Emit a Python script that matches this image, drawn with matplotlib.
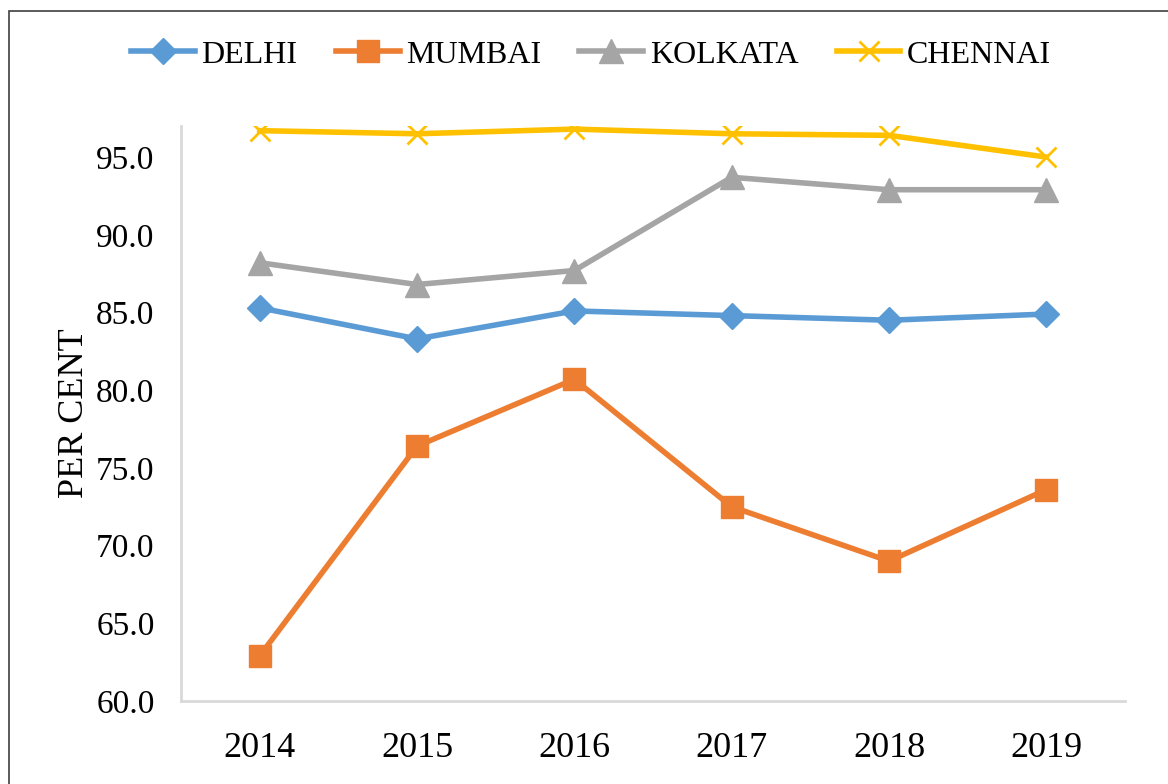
import matplotlib
matplotlib.use("Agg")
import matplotlib.pyplot as plt
from matplotlib.patches import Rectangle

years = ["2014", "2015", "2016", "2017", "2018", "2019"]
delhi = [85.3, 83.3, 85.1, 84.8, 84.5, 84.9]
mumbai = [62.9, 76.4, 80.7, 72.5, 69.0, 73.6]
kolkata = [88.2, 86.8, 87.7, 93.7, 92.9, 92.9]
chennai = [96.7, 96.5, 96.8, 96.5, 96.4, 95.0]
yticks = [60, 65, 70, 75, 80, 85, 90, 95]

plt.rcParams['font.family'] = ['Liberation Serif', 'DejaVu Serif']

fig = plt.figure(figsize=(11.68, 7.84), dpi=100)
ax = fig.add_axes([181/1168, 83/784, 944/1168, 575/784])

x = list(range(len(years)))
lw = 4.0
ax.plot(x, delhi, color='#5B9BD5', lw=lw, marker='D', ms=13, label='DELHI')
ax.plot(x, mumbai, color='#ED7D31', lw=lw, marker='s', ms=16, label='MUMBAI')
ax.plot(x, kolkata, color='#A5A5A5', lw=lw, marker='^', ms=17, label='KOLKATA')
ax.plot(x, chennai, color='#FFC000', lw=lw, marker='x', ms=15, mew=2, label='CHENNAI')

ax.set_xlim(-0.5, 5.5)
ax.set_ylim(60, 97)
ax.set_xticks(x)
ax.set_xticklabels(years, fontsize=26)
ax.set_yticks(yticks)
ax.set_yticklabels([f"{v:.1f}" for v in yticks], fontsize=24)
ax.tick_params(axis='both', length=0)
ax.tick_params(axis='y', pad=19)
ax.tick_params(axis='x', pad=22)
for s in ['top', 'right']:
    ax.spines[s].set_visible(False)
for s in ['left', 'bottom']:
    ax.spines[s].set_color('#D9D9D9')
    ax.spines[s].set_linewidth(2)
ax.set_ylabel('PER CENT', fontsize=26, labelpad=4)

leg = fig.legend(loc='center', bbox_to_anchor=(591/1168, 1 - 55/784), ncol=4,
                 frameon=False, fontsize=23, handlelength=2.0, columnspacing=1.2,
                 handletextpad=0.2)

fig.add_artist(Rectangle((9/1168, -0.05), 1.1, 0.05 + (784-11)/784,
                         transform=fig.transFigure, fill=False,
                         edgecolor='#404040', lw=1.2))

fig.savefig('out.png', dpi=100)
